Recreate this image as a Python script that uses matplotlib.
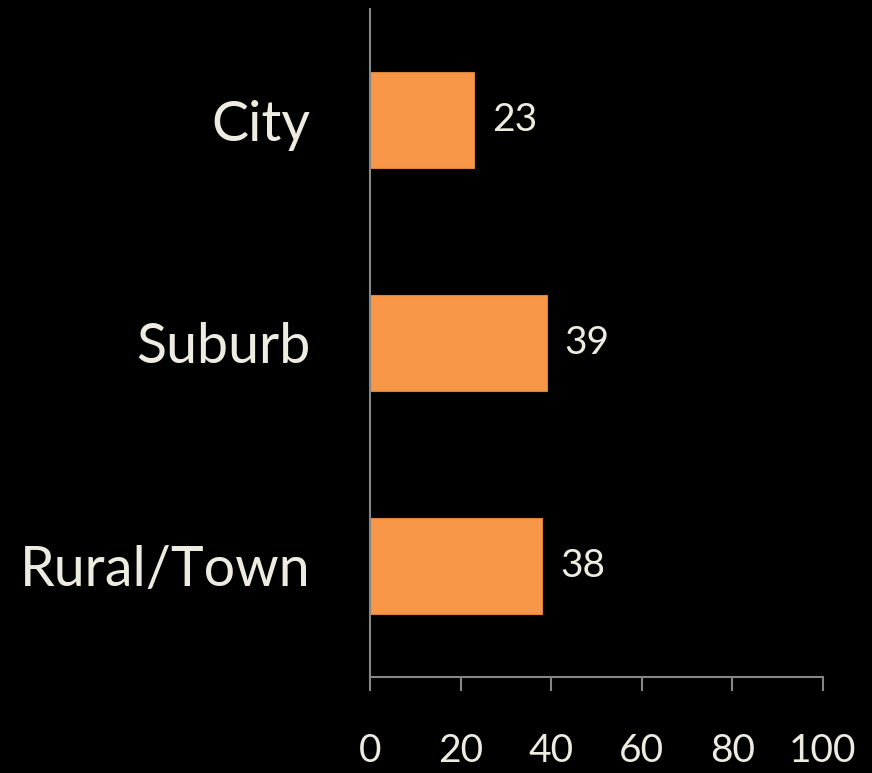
import matplotlib.pyplot as plt

categories = ["City", "Suburb", "Rural/Town"]
values = [23, 39, 38]
xticks = [0, 20, 40, 60, 80, 100]

bar_color = "#F79646"
text_color = "#EEECE1"
axis_color = "#868686"

plt.rcParams["font.family"] = ["Lato", "DejaVu Sans"]

fig = plt.figure(figsize=(8.72, 7.73), dpi=100, facecolor="black")
ax = fig.add_axes([0.4243, 0.1242, 0.5195, 0.8642], facecolor="black")

pos = list(range(len(categories)))[::-1]
ax.barh(pos, values, height=0.43, color=bar_color, edgecolor="#D9823E", linewidth=0.8)

for y, v in zip(pos, values):
    ax.text(v + 4, y, str(v), va="center", ha="left", color=text_color, fontsize=28)

ax.set_xlim(0, 100)
ax.set_ylim(-0.5, 2.5)
ax.set_xticks(xticks)
ax.set_xticklabels([str(t) for t in xticks])
ax.set_yticks(pos)
ax.set_yticklabels(categories)

ax.tick_params(axis="x", colors=axis_color, labelcolor=text_color, labelsize=28,
               length=10, width=1.5, direction="out", pad=30)
ax.tick_params(axis="y", length=0, labelcolor=text_color, labelsize=40, pad=43)

for side in ["top", "right"]:
    ax.spines[side].set_visible(False)
for side in ["left", "bottom"]:
    ax.spines[side].set_color(axis_color)
    ax.spines[side].set_linewidth(1.5)

fig.savefig("out.png", dpi=100, facecolor="black")
